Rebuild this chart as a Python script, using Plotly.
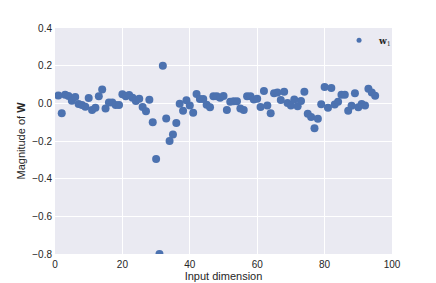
import plotly.graph_objects as go

dims = list(range(1, 96))
weights = [
    0.041, -0.053, 0.046, 0.039, 0.014, 0.034, -0.004, -0.009, -0.018, 0.028,
    -0.035, -0.023, 0.037, 0.073, -0.027, 0.005, 0.004, -0.009, -0.009, 0.048,
    0.037, 0.044, 0.030, 0.012, 0.025, -0.019, -0.042, 0.019, -0.100, -0.296,
    -0.800, 0.200, -0.080, -0.200, -0.166, -0.104, -0.002, -0.039, 0.016, -0.012,
    -0.050, 0.050, 0.023, 0.023, -0.007, -0.021, 0.037, 0.037, 0.030, 0.039,
    -0.035, 0.009, 0.011, 0.011, -0.028, -0.035, 0.037, 0.037, 0.021, 0.025,
    -0.019, 0.066, -0.011, -0.052, 0.053, 0.057, 0.018, 0.062, 0.002, -0.011,
    0.020, -0.016, 0.013, 0.062, -0.055, -0.073, -0.132, -0.082, -0.005, 0.087,
    -0.023, 0.081, -0.006, 0.008, 0.046, 0.045, -0.039, -0.013, 0.054, -0.021,
    -0.004, -0.011, 0.078, 0.058, 0.040,
]

x_ticks = [0, 20, 40, 60, 80, 100]
y_ticks = [0.4, 0.2, 0.0, -0.2, -0.4, -0.6, -0.8]

blue = "#4C72B0"
legend_label = "<b>w</b><sub>1</sub>"

fig = go.Figure()
fig.add_trace(go.Scatter(
    x=dims, y=weights, mode="markers",
    marker=dict(color=blue, size=8),
    showlegend=False,
))
# legend entry with the smaller legend marker
fig.add_trace(go.Scatter(
    x=[None], y=[None], mode="markers",
    marker=dict(color=blue, size=5),
    name=legend_label, showlegend=True,
))

fig.update_layout(
    width=428, height=275,
    margin=dict(l=47, r=44, t=20, b=29, autoexpand=False),
    paper_bgcolor="white",
    plot_bgcolor="#EAEAF2",
    font=dict(family="Liberation Sans, Arial, sans-serif", size=10, color="#262626"),
    showlegend=True,
    legend=dict(
        x=1.015, y=1.01, xanchor="right", yanchor="top",
        bgcolor="rgba(0,0,0,0)",
        font=dict(family="DejaVu Serif, serif", size=9, color="#262626"),
        itemwidth=30,
    ),
    xaxis=dict(
        range=[0, 100], tickvals=x_ticks, automargin=False,
        showgrid=True, gridcolor="white", gridwidth=1,
        zeroline=False, showline=False, ticks="",
        ticklabelstandoff=3,
        title=dict(text="Input dimension", font=dict(size=11), standoff=2),
        tickfont=dict(size=10),
    ),
    yaxis=dict(
        range=[-0.8, 0.4], tickvals=y_ticks, tickformat=".1f", automargin=False,
        showgrid=True, gridcolor="white", gridwidth=1,
        zeroline=False, showline=False, ticks="",
        ticklabelstandoff=2,
        title=dict(text="Magnitude of <b>W</b>", font=dict(size=11), standoff=4),
        tickfont=dict(size=10),
    ),
)

fig.write_html("out.html")
